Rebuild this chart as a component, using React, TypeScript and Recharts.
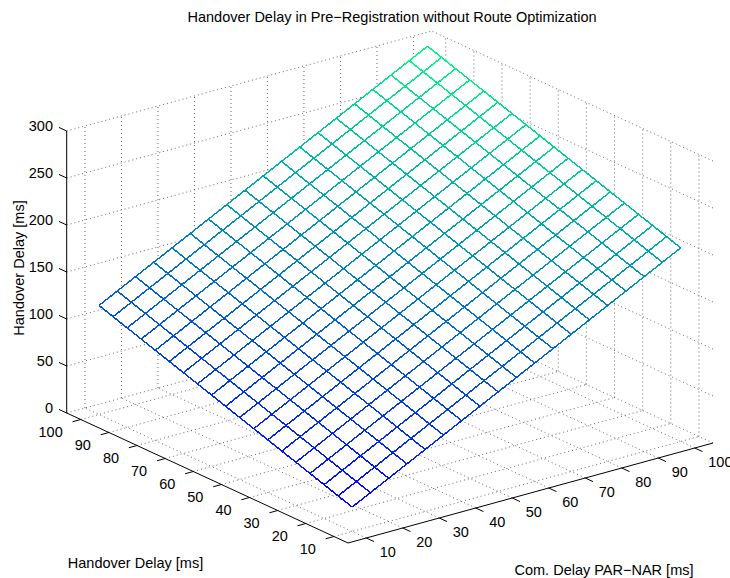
import React from "react";
import { ComposedChart, Line, Area, Scatter, XAxis, YAxis } from "recharts";

// Grid of the two input delays (ms)
const comDelay = [10, 15, 20, 25, 30, 35, 40, 45, 50, 55, 60, 65, 70, 75, 80, 85, 90, 95, 100];
const handoverDelay = [10, 15, 20, 25, 30, 35, 40, 45, 50, 55, 60, 65, 70, 75, 80, 85, 90, 95, 100];

// Resulting handover delay (ms): one row per handoverDelay value, one column per comDelay value
const totalDelay: number[][] = [
  [26, 36, 46, 56, 66, 76, 86, 96, 106, 116, 126, 136, 146, 156, 166, 176, 186, 196, 206],
  [31, 41, 51, 61, 71, 81, 91, 101, 111, 121, 131, 141, 151, 161, 171, 181, 191, 201, 211],
  [36, 46, 56, 66, 76, 86, 96, 106, 116, 126, 136, 146, 156, 166, 176, 186, 196, 206, 216],
  [41, 51, 61, 71, 81, 91, 101, 111, 121, 131, 141, 151, 161, 171, 181, 191, 201, 211, 221],
  [46, 56, 66, 76, 86, 96, 106, 116, 126, 136, 146, 156, 166, 176, 186, 196, 206, 216, 226],
  [51, 61, 71, 81, 91, 101, 111, 121, 131, 141, 151, 161, 171, 181, 191, 201, 211, 221, 231],
  [56, 66, 76, 86, 96, 106, 116, 126, 136, 146, 156, 166, 176, 186, 196, 206, 216, 226, 236],
  [61, 71, 81, 91, 101, 111, 121, 131, 141, 151, 161, 171, 181, 191, 201, 211, 221, 231, 241],
  [66, 76, 86, 96, 106, 116, 126, 136, 146, 156, 166, 176, 186, 196, 206, 216, 226, 236, 246],
  [71, 81, 91, 101, 111, 121, 131, 141, 151, 161, 171, 181, 191, 201, 211, 221, 231, 241, 251],
  [76, 86, 96, 106, 116, 126, 136, 146, 156, 166, 176, 186, 196, 206, 216, 226, 236, 246, 256],
  [81, 91, 101, 111, 121, 131, 141, 151, 161, 171, 181, 191, 201, 211, 221, 231, 241, 251, 261],
  [86, 96, 106, 116, 126, 136, 146, 156, 166, 176, 186, 196, 206, 216, 226, 236, 246, 256, 266],
  [91, 101, 111, 121, 131, 141, 151, 161, 171, 181, 191, 201, 211, 221, 231, 241, 251, 261, 271],
  [96, 106, 116, 126, 136, 146, 156, 166, 176, 186, 196, 206, 216, 226, 236, 246, 256, 266, 276],
  [101, 111, 121, 131, 141, 151, 161, 171, 181, 191, 201, 211, 221, 231, 241, 251, 261, 271, 281],
  [106, 116, 126, 136, 146, 156, 166, 176, 186, 196, 206, 216, 226, 236, 246, 256, 266, 276, 286],
  [111, 121, 131, 141, 151, 161, 171, 181, 191, 201, 211, 221, 231, 241, 251, 261, 271, 281, 291],
  [116, 126, 136, 146, 156, 166, 176, 186, 196, 206, 216, 226, 236, 246, 256, 266, 276, 286, 296],
];

// Tick values of the three axes
const comTicks = [10, 20, 30, 40, 50, 60, 70, 80, 90, 100];
const handoverTicks = [10, 20, 30, 40, 50, 60, 70, 80, 90, 100];
const totalTicks = [0, 50, 100, 150, 200, 250, 300];

const TITLE = "Handover Delay in Pre\u2212Registration without Route Optimization";
const X_TITLE = "Com. Delay PAR\u2212NAR [ms]";
const Y_TITLE = "Handover Delay [ms]";
const Z_TITLE = "Handover Delay [ms]";

const WIDTH = 730;
const HEIGHT = 578;
const FONT = "'Liberation Sans', Arial, Helvetica, sans-serif";
const FONT_SIZE = 14.5;

// Axis box limits
const X_MIN = 5, X_MAX = 105;
const Y_MIN = 5, Y_MAX = 105;
const Z_MIN = 0, Z_MAX = 300;

// Oblique view: plane position of the (X_MIN, Y_MIN, Z_MIN) corner and the step per data unit of each axis
const VIEW = { u0: 348, v0: 543, xu: 3.65, xv: -1.0, yu: -2.813, yv: -1.3, zv: -0.94 };

type Pt = { u: number; v: number | null };

const project = (x: number, y: number, z: number): { u: number; v: number } => ({
  u: VIEW.u0 + (x - X_MIN) * VIEW.xu + (y - Y_MIN) * VIEW.yu,
  v: VIEW.v0 + (x - X_MIN) * VIEW.xv + (y - Y_MIN) * VIEW.yv + (z - Z_MIN) * VIEW.zv,
});

type Seg = [number, number, number][];

// Joins separate segments into one series, broken by null values
const joinSegments = (segs: Seg[]): Pt[] => {
  const out: Pt[] = [];
  segs.forEach((seg) => {
    seg.forEach(([x, y, z]) => out.push(project(x, y, z)));
    out.push({ u: out[out.length - 1].u, v: null });
  });
  return out;
};

// Dotted grid on the floor and the two back walls
const gridSegs: Seg[] = [
  ...comTicks.map((x): Seg => [[x, Y_MIN, Z_MIN], [x, Y_MAX, Z_MIN]]),
  ...handoverTicks.map((y): Seg => [[X_MIN, y, Z_MIN], [X_MAX, y, Z_MIN]]),
  ...comTicks.map((x): Seg => [[x, Y_MAX, Z_MIN], [x, Y_MAX, Z_MAX]]),
  ...totalTicks.map((z): Seg => [[X_MIN, Y_MAX, z], [X_MAX, Y_MAX, z]]),
  ...handoverTicks.map((y): Seg => [[X_MAX, y, Z_MIN], [X_MAX, y, Z_MAX]]),
  ...totalTicks.map((z): Seg => [[X_MAX, Y_MIN, z], [X_MAX, Y_MAX, z]]),
];
const gridData = joinSegments(gridSegs);

// Axis lines and tick marks
const axisSegs: Seg[] = [
  [[X_MIN, Y_MIN, Z_MIN], [X_MAX, Y_MIN, Z_MIN]],
  [[X_MIN, Y_MIN, Z_MIN], [X_MIN, Y_MAX, Z_MIN]],
  [[X_MIN, Y_MAX, Z_MIN], [X_MIN, Y_MAX, Z_MAX]],
  ...comTicks.map((x): Seg => [[x, Y_MIN, Z_MIN], [x, Y_MIN - 2.75, Z_MIN]]),
  ...handoverTicks.map((y): Seg => [[X_MIN, y, Z_MIN], [X_MIN - 2.25, y, Z_MIN]]),
  ...totalTicks.map((z): Seg => [[X_MIN, Y_MAX, z], [X_MIN, Y_MAX + 2.75, z]]),
];
const axisData = joinSegments(axisSegs);

// Winter colormap over the data range
const allZ = totalDelay.flat();
const zLo = Math.min(...allZ);
const zHi = Math.max(...allZ);
const winter = (z: number) => {
  const t = (z - zLo) / (zHi - zLo);
  return `rgb(0,${Math.round(255 * t)},${Math.round(255 * (1 - t / 2))})`;
};

// Mesh lines: rows at fixed handover delay, columns at fixed com. delay
const meshRows = handoverDelay.map((y, j) => ({
  id: `mesh-row-${j}`,
  from: winter(totalDelay[j][0]),
  to: winter(totalDelay[j][comDelay.length - 1]),
  pts: comDelay.map((x, i) => project(x, y, totalDelay[j][i])),
}));
const meshCols = comDelay.map((x, i) => ({
  id: `mesh-col-${i}`,
  from: winter(totalDelay[0][i]),
  to: winter(totalDelay[handoverDelay.length - 1][i]),
  pts: handoverDelay.map((y, j) => project(x, y, totalDelay[j][i])),
}));

// Opaque face of the mesh (hides the grid behind it)
const nx = comDelay.length - 1;
const ny = handoverDelay.length - 1;
const cF = project(comDelay[0], handoverDelay[0], totalDelay[0][0]);
const cL = project(comDelay[0], handoverDelay[ny], totalDelay[ny][0]);
const cR = project(comDelay[nx], handoverDelay[0], totalDelay[0][nx]);
const cT = project(comDelay[nx], handoverDelay[ny], totalDelay[ny][nx]);
const lerpV = (a: { u: number; v: number }, b: { u: number; v: number }, u: number) =>
  a.v + ((b.v - a.v) * (u - a.u)) / (b.u - a.u);
const faceData = [
  { u: cL.u, range: [cL.v, cL.v] },
  { u: cF.u, range: [cF.v, lerpV(cL, cT, cF.u)] },
  { u: cT.u, range: [lerpV(cF, cR, cT.u), cT.v] },
  { u: cR.u, range: [cR.v, cR.v] },
];

// Tick labels
type Lbl = { u: number; v: number; text: string; anchor: "start" | "end"; dx: number; dy: number };
const tickLabels: Lbl[] = [
  ...totalTicks.map((z) => ({ ...project(X_MIN, Y_MAX, z), text: String(z), anchor: "end" as const, dx: -13.7, dy: -4.8 })),
  ...handoverTicks.map((y) => ({ ...project(X_MIN, y, Z_MIN), text: String(y), anchor: "end" as const, dx: -18, dy: 12.7 })),
  ...comTicks.map((x) => ({ ...project(x, Y_MIN, Z_MIN), text: String(x), anchor: "start" as const, dx: 13.5, dy: 14.2 })),
];

const renderLabel = (props: any) => {
  const { cx, cy, payload } = props;
  return (
    <text
      x={cx + payload.dx}
      y={cy + payload.dy}
      textAnchor={payload.anchor}
      dominantBaseline="central"
      fontFamily={FONT}
      fontSize={FONT_SIZE}
      fill="#000"
    >
      {payload.text}
    </text>
  );
};

const MARGIN = { top: 0, right: 0, bottom: 0, left: 0 };
const layer: React.CSSProperties = { position: "absolute", left: 0, top: 0 };

// Shared plane axes of both chart layers
const planeAxes = [
  <XAxis key="x" dataKey="u" type="number" domain={[0, WIDTH]} allowDataOverflow hide />,
  <YAxis key="y" dataKey="v" type="number" domain={[0, HEIGHT]} allowDataOverflow reversed hide />,
];

export default function App() {
  return (
    <div style={{ position: "absolute", left: 0, top: 0, width: WIDTH, height: HEIGHT, background: "#fff" }}>
      {/* back layer: dotted grid on floor and walls */}
      <div style={layer}>
        <ComposedChart width={WIDTH} height={HEIGHT} margin={MARGIN}>
          {planeAxes}
          <Line
            data={gridData}
            dataKey="v"
            type="linear"
            stroke="#555"
            strokeWidth={0.9}
            strokeDasharray="1 3"
            dot={false}
            activeDot={false}
            connectNulls={false}
            isAnimationActive={false}
          />
        </ComposedChart>
      </div>
      {/* front layer: opaque mesh surface, axes and tick labels */}
      <div style={layer}>
        <ComposedChart width={WIDTH} height={HEIGHT} data={faceData} margin={MARGIN}>
          <defs>
            {meshRows.map((m) => (
              <linearGradient key={m.id} id={m.id} x1="0" y1="1" x2="1" y2="0">
                <stop offset="0%" stopColor={m.from} />
                <stop offset="100%" stopColor={m.to} />
              </linearGradient>
            ))}
            {meshCols.map((m) => (
              <linearGradient key={m.id} id={m.id} x1="1" y1="1" x2="0" y2="0">
                <stop offset="0%" stopColor={m.from} />
                <stop offset="100%" stopColor={m.to} />
              </linearGradient>
            ))}
          </defs>
          {planeAxes}
          <Area
            dataKey="range"
            type="linear"
            fill="#fff"
            fillOpacity={1}
            stroke="none"
            dot={false}
            activeDot={false}
            isAnimationActive={false}
          />
          {meshRows.map((m) => (
            <Line
              key={m.id}
              data={m.pts}
              dataKey="v"
              type="linear"
              stroke={`url(#${m.id})`}
              strokeWidth={1.5}
              shapeRendering="crispEdges"
              dot={false}
              activeDot={false}
              isAnimationActive={false}
            />
          ))}
          {meshCols.map((m) => (
            <Line
              key={m.id}
              data={m.pts}
              dataKey="v"
              type="linear"
              stroke={`url(#${m.id})`}
              strokeWidth={1.5}
              shapeRendering="crispEdges"
              dot={false}
              activeDot={false}
              isAnimationActive={false}
            />
          ))}
          <Line
            data={axisData}
            dataKey="v"
            type="linear"
            stroke="#000"
            strokeWidth={1}
            dot={false}
            activeDot={false}
            connectNulls={false}
            isAnimationActive={false}
          />
          <Scatter data={tickLabels} dataKey="v" shape={renderLabel} isAnimationActive={false} />
        </ComposedChart>
      </div>
      <svg width={WIDTH} height={HEIGHT} style={{ ...layer, pointerEvents: "none" }}>
        <text x={392} y={17} textAnchor="middle" dominantBaseline="central" fontFamily={FONT} fontSize={FONT_SIZE} fill="#000">
          {TITLE}
        </text>
        <text x={135.5} y={563} textAnchor="middle" dominantBaseline="central" fontFamily={FONT} fontSize={FONT_SIZE} fill="#000">
          {Y_TITLE}
        </text>
        <text x={604} y={570} textAnchor="middle" dominantBaseline="central" fontFamily={FONT} fontSize={FONT_SIZE} fill="#000">
          {X_TITLE}
        </text>
        <text
          x={19}
          y={268}
          textAnchor="middle"
          dominantBaseline="central"
          transform="rotate(-90 19 268)"
          fontFamily={FONT}
          fontSize={FONT_SIZE}
          fill="#000"
        >
          {Z_TITLE}
        </text>
      </svg>
    </div>
  );
}
